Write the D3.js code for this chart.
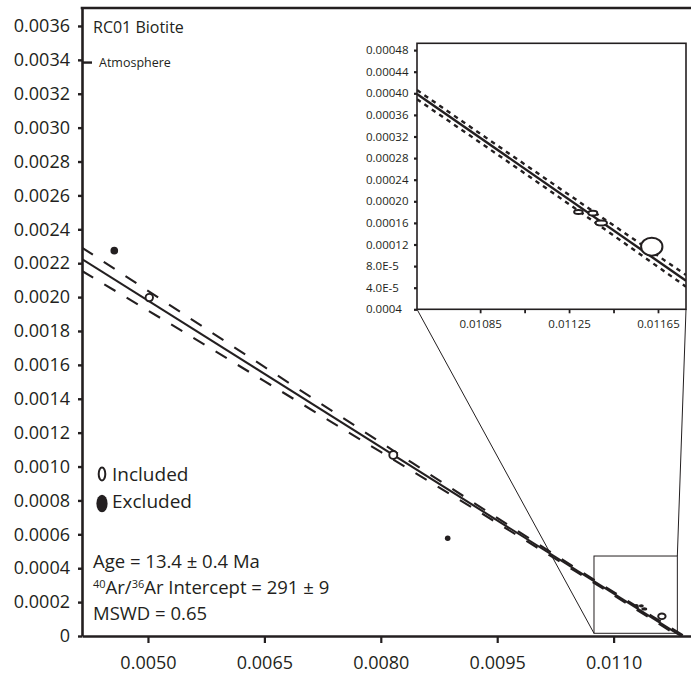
<!DOCTYPE html>
<html><head><meta charset="utf-8">
<script src="https://cdn.jsdelivr.net/npm/d3@7"></script>
<style>
body{margin:0;background:#fff}
svg{display:block;font-family:"Open Sans",sans-serif}
</style>
</head><body>
<svg id="chart" width="691" height="675"></svg>
<script>
// ---------------- data ----------------
const xTicks = [0.0050, 0.0065, 0.0080, 0.0095, 0.0110];
const xTickLabels = ["0.0050", "0.0065", "0.0080", "0.0095", "0.0110"];
const yTicks = [0, 0.0002, 0.0004, 0.0006, 0.0008, 0.0010, 0.0012, 0.0014, 0.0016, 0.0018,
                0.0020, 0.0022, 0.0024, 0.0026, 0.0028, 0.0030, 0.0032, 0.0034, 0.0036];
const yTickLabels = ["0", "0.0002", "0.0004", "0.0006", "0.0008", "0.0010", "0.0012", "0.0014", "0.0016", "0.0018",
                "0.0020", "0.0022", "0.0024", "0.0026", "0.0028", "0.0030", "0.0032", "0.0034", "0.0036"];

// included analyses (39Ar/40Ar, 36Ar/40Ar) with half-axes of the error ellipses
const includedX  = [0.005017, 0.008161, 0.011292, 0.011357, 0.011395, 0.011622];
const includedY  = [0.001997, 0.001068, 0.000180, 0.000178, 0.000160, 0.000116];
const includedSX = [0.0000477, 0.0000515, 0.0000193, 0.0000200, 0.0000256, 0.0000480];
const includedSY = [0.0000218, 0.0000236, 0.0000037, 0.0000043, 0.0000046, 0.0000167];

// excluded analyses
const excludedX  = [0.004566, 0.008862];
const excludedY  = [0.002274, 0.000577];
const excludedSX = [0.0000490, 0.0000360];
const excludedSY = [0.0000224, 0.0000165];

// isochron regression line and its error envelope (main panel)
const lineX = [0.00415, 0.0119];
const lineY = [0.002224, -0.000009];
const envX     = [0.00415, 0.0050, 0.0065, 0.0080, 0.0095, 0.0105, 0.0115, 0.0120];
const envUpper = [0.002292, 0.002037, 0.001588, 0.001142, 0.000697, 0.000404, 0.000116, -0.000026];
const envLower = [0.002154, 0.001921, 0.001504, 0.001086, 0.000667, 0.000384, 0.000096, -0.000050];

// atmospheric 36Ar/40Ar (1/295.5)
const atmosphere = 0.003384;

// inset (zoom) panel
const insetXDomain = [0.010566, 0.011776];
const insetYDomain = [0, 0.0004926];
const insetXTicks = [0.01085, 0.01105, 0.01125, 0.01145, 0.01165];
const insetXTickLabels = ["0.01085", "", "0.01125", "", "0.01165"];
const insetYTicks = [0, 0.00004, 0.00008, 0.00012, 0.00016, 0.00020, 0.00024, 0.00028, 0.00032, 0.00036, 0.00040, 0.00044, 0.00048];
const insetYTickLabels = ["0.0004", "4.0E-5", "8.0E-5", "0.00012", "0.00016", "0.00020", "0.00024", "0.00028", "0.00032", "0.00036", "0.00040", "0.00044", "0.00048"];
const insetLineX = [0.010566, 0.011776];
const insetLineY = [0.0003987, 0.000053];
const insetEnvX     = [0.010566, 0.011170, 0.011776];
const insetEnvUpper = [0.000406, 0.0002346, 0.0000635];
const insetEnvLower = [0.000389, 0.0002176, 0.0000419];

// region of the main panel that the inset enlarges
const zoomRectX = [0.010747, 0.011821];
const zoomRectY = [0.000016, 0.000472];

// text
const titleText = "RC01 Biotite";
const atmText = "Atmosphere";
const legendLabels = ["Included", "Excluded"];
const ageText = "Age = 13.4 \u00B1 0.4 Ma";
const interceptParts = ["40", "Ar/", "36", "Ar Intercept = 291 \u00B1 9"];
const mswdText = "MSWD = 0.65";

// ---------------- drawing ----------------
const svg = d3.select("#chart");
const L = 82, R = 691, T = 8, B = 636;
const ink = "#231f20";

const x = d3.scaleLinear().domain([0.00415, 0.011997]).range([L, R]);
const y = d3.scaleLinear().domain([0, 0.003706]).range([B, T]);

svg.append("defs").append("clipPath").attr("id", "mainClip")
  .append("rect").attr("x", L).attr("y", T).attr("width", R - L).attr("height", B - T);

const main = svg.append("g").attr("clip-path", "url(#mainClip)");

const toPts = (xs, ys) => xs.map((v, i) => [v, ys[i]]);
const lineMain = d3.line().x(d => x(d[0])).y(d => y(d[1]));
const curveMain = d3.line().x(d => x(d[0])).y(d => y(d[1])).curve(d3.curveMonotoneX);

// envelope
[envUpper, envLower].forEach(arr => {
  main.append("path").attr("d", curveMain(toPts(envX, arr)))
    .attr("fill", "none").attr("stroke", ink).attr("stroke-width", 2.1)
    .attr("stroke-dasharray", "13,13");
});
// regression line
main.append("path").attr("d", lineMain(toPts(lineX, lineY)))
  .attr("fill", "none").attr("stroke", ink).attr("stroke-width", 2.1);

// points
const incIdx = d3.range(includedX.length);
main.selectAll("ellipse.inc").data(incIdx).join("ellipse").attr("class", "inc")
  .attr("cx", i => x(includedX[i])).attr("cy", i => y(includedY[i]))
  .attr("rx", i => x(includedX[i] + includedSX[i]) - x(includedX[i]))
  .attr("ry", i => y(includedY[i]) - y(includedY[i] + includedSY[i]))
  .attr("fill", "#fff").attr("stroke", ink).attr("stroke-width", 1.9);
const excIdx = d3.range(excludedX.length);
main.selectAll("ellipse.exc").data(excIdx).join("ellipse").attr("class", "exc")
  .attr("cx", i => x(excludedX[i])).attr("cy", i => y(excludedY[i]))
  .attr("rx", i => x(excludedX[i] + excludedSX[i]) - x(excludedX[i]))
  .attr("ry", i => y(excludedY[i]) - y(excludedY[i] + excludedSY[i]))
  .attr("fill", ink);

// zoom rectangle
svg.append("rect")
  .attr("x", x(zoomRectX[0])).attr("y", y(zoomRectY[1]))
  .attr("width", x(zoomRectX[1]) - x(zoomRectX[0]))
  .attr("height", y(zoomRectY[0]) - y(zoomRectY[1]))
  .attr("fill", "none").attr("stroke", ink).attr("stroke-width", 1);

// inset scales
const ix = d3.scaleLinear().domain(insetXDomain).range([417, 686]);
const iy = d3.scaleLinear().domain(insetYDomain).range([309.3, 43.3]);

// connectors
svg.append("line").attr("x1", x(zoomRectX[0])).attr("y1", y(zoomRectY[0]))
  .attr("x2", ix.range()[0]).attr("y2", iy.range()[0])
  .attr("stroke", ink).attr("stroke-width", 1);
svg.append("line").attr("x1", x(zoomRectX[1])).attr("y1", y(zoomRectY[1]))
  .attr("x2", ix.range()[1]).attr("y2", iy.range()[0])
  .attr("stroke", ink).attr("stroke-width", 1);

// main axes
const yAxis = d3.axisLeft(y).tickValues(yTicks).tickFormat((d, i) => yTickLabels[i])
  .tickSize(4).tickSizeOuter(0).tickPadding(8);
const gy = svg.append("g").attr("transform", `translate(${L},0)`).call(yAxis);
gy.select(".domain").attr("stroke", ink).attr("stroke-width", 2.6);
gy.selectAll(".tick line").attr("stroke", ink).attr("stroke-width", 2.4);
gy.selectAll(".tick text").attr("font-size", 18).attr("font-family", "Open Sans").attr("fill", ink);

const xAxis = d3.axisBottom(x).tickValues(xTicks).tickFormat((d, i) => xTickLabels[i])
  .tickSize(7).tickSizeOuter(0).tickPadding(13);
const gx = svg.append("g").attr("transform", `translate(0,${B})`).call(xAxis);
gx.select(".domain").attr("stroke", ink).attr("stroke-width", 2.6);
gx.selectAll(".tick line").attr("stroke", ink).attr("stroke-width", 2.2);
gx.selectAll(".tick text").attr("font-size", 18).attr("font-family", "Open Sans").attr("fill", ink);

// top border
svg.append("line").attr("x1", L - 1.3).attr("x2", R).attr("y1", T).attr("y2", T)
  .attr("stroke", ink).attr("stroke-width", 2.6);

// atmosphere tick
svg.append("line").attr("x1", L).attr("x2", L + 10).attr("y1", y(atmosphere)).attr("y2", y(atmosphere))
  .attr("stroke", ink).attr("stroke-width", 2.4);
svg.append("text").attr("x", 99).attr("y", y(atmosphere) + 4.5).attr("font-size", 12.5)
  .attr("fill", ink).text(atmText);

// title
svg.append("text").attr("x", 93).attr("y", 33).attr("font-size", 16).attr("fill", ink).text(titleText);

// legend
svg.append("ellipse").attr("cx", 102).attr("cy", 474).attr("rx", 3.3).attr("ry", 6.5)
  .attr("fill", "#fff").attr("stroke", ink).attr("stroke-width", 2);
svg.append("ellipse").attr("cx", 102).attr("cy", 503.5).attr("rx", 5.6).attr("ry", 8.8)
  .attr("fill", ink);
svg.append("text").attr("x", 112).attr("y", 481).attr("font-size", 19).attr("fill", ink).text(legendLabels[0]);
svg.append("text").attr("x", 112).attr("y", 507.5).attr("font-size", 19).attr("fill", ink).text(legendLabels[1]);

// stats
svg.append("text").attr("x", 93).attr("y", 568).attr("font-size", 18.5).attr("fill", ink).text(ageText);
const t2 = svg.append("text").attr("x", 93).attr("y", 593.5).attr("font-size", 18.5).attr("fill", ink);
t2.append("tspan").attr("font-size", 11).attr("dy", -6).text(interceptParts[0]);
t2.append("tspan").attr("dy", 6).text(interceptParts[1]);
t2.append("tspan").attr("font-size", 11).attr("dy", -6).text(interceptParts[2]);
t2.append("tspan").attr("dy", 6).text(interceptParts[3]);
svg.append("text").attr("x", 93).attr("y", 620).attr("font-size", 18.5).attr("fill", ink).text(mswdText);

// ---------------- inset ----------------
const inset = svg.append("g");
inset.append("rect").attr("x", 417).attr("y", 43.3).attr("width", 269).attr("height", 266)
  .attr("fill", "#fff");
svg.select("defs").append("clipPath").attr("id", "insetClip")
  .append("rect").attr("x", 417).attr("y", 43.3).attr("width", 269).attr("height", 266);
const ig = inset.append("g").attr("clip-path", "url(#insetClip)");
const lineIn = d3.line().x(d => ix(d[0])).y(d => iy(d[1]));
const curveIn = d3.line().x(d => ix(d[0])).y(d => iy(d[1])).curve(d3.curveMonotoneX);
[insetEnvUpper, insetEnvLower].forEach(arr => {
  ig.append("path").attr("d", curveIn(toPts(insetEnvX, arr)))
    .attr("fill", "none").attr("stroke", ink).attr("stroke-width", 2.4)
    .attr("stroke-dasharray", "4.5,4.5");
});
ig.append("path").attr("d", lineIn(toPts(insetLineX, insetLineY)))
  .attr("fill", "none").attr("stroke", ink).attr("stroke-width", 2.4);
ig.selectAll("ellipse.inc").data(incIdx.filter(i => includedX[i] > insetXDomain[0])).join("ellipse")
  .attr("class", "inc")
  .attr("cx", i => ix(includedX[i])).attr("cy", i => iy(includedY[i]))
  .attr("rx", i => ix(includedX[i] + includedSX[i]) - ix(includedX[i]))
  .attr("ry", i => iy(includedY[i]) - iy(includedY[i] + includedSY[i]))
  .attr("fill", "#fff").attr("stroke", ink).attr("stroke-width", 2);

inset.append("rect").attr("x", 417).attr("y", 43.3).attr("width", 269).attr("height", 266)
  .attr("fill", "none").attr("stroke", ink).attr("stroke-width", 1.6);

const iyAxis = d3.axisLeft(iy).tickValues(insetYTicks).tickFormat((d, i) => insetYTickLabels[i])
  .tickSize(3).tickSizeOuter(0).tickPadding(4);
const giy = inset.append("g").attr("transform", "translate(417,0)").call(iyAxis);
giy.select(".domain").remove();
giy.selectAll(".tick line").attr("stroke", ink).attr("stroke-width", 2.2);
giy.selectAll(".tick text").attr("font-size", 11.5).attr("font-family", "Open Sans")
  .attr("fill", ink).attr("text-anchor", "start").attr("x", -51);

const ixAxis = d3.axisBottom(ix).tickValues(insetXTicks).tickFormat((d, i) => insetXTickLabels[i])
  .tickSize(4).tickSizeOuter(0).tickPadding(7);
const gix = inset.append("g").attr("transform", "translate(0,309.3)").call(ixAxis);
gix.select(".domain").remove();
gix.selectAll(".tick line").attr("stroke", ink).attr("stroke-width", 1.8);
gix.selectAll(".tick text").attr("font-size", 11.5).attr("font-family", "Open Sans").attr("fill", ink);
</script>
</body></html>
